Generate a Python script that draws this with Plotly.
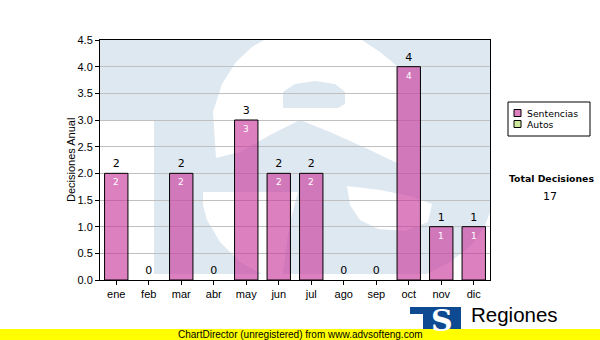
import plotly.graph_objects as go

months = ["ene", "feb", "mar", "abr", "may", "jun", "jul", "ago", "sep", "oct", "nov", "dic"]
sentencias = [2, 0, 2, 0, 3, 2, 2, 0, 0, 4, 1, 1]
autos = [0, 0, 0, 0, 0, 0, 0, 0, 0, 0, 0, 0]
series_names = ["Sentencias", "Autos"]
series_colors = ["rgba(201,54,155,0.63)", "#cfe89c"]
y_ticks = [0.0, 0.5, 1.0, 1.5, 2.0, 2.5, 3.0, 3.5, 4.0, 4.5]
total_label = "Total Decisiones"
total_value = sum(sentencias) + sum(autos)

W, H = 600, 340
L, R, T, B = 100, 110, 40, 60
PW, PH = W - L - R, H - T - B


def px(x):
    return (x - L) / PW


def py(y):
    return (H - B - y) / PH


def poly(points):
    return "M " + " L ".join(f"{px(x):.4f},{py(y):.4f}" for x, y in points) + " Z"


LB = "#dee8f1"
shapes = []
# watermark background (light-blue logo)
shapes.append(dict(type="path", path=poly([(100, 40), (490, 40), (490, 274), (154, 274), (154, 120), (100, 120)]),
                   xref="paper", yref="paper", fillcolor=LB, line=dict(width=0), layer="below"))
# upper counter (white)
shapes.append(dict(type="path", path=poly([(216, 158), (213, 112), (222, 84), (236, 62), (252, 47), (264, 40),
                                           (362, 40), (380, 52), (397, 66), (397, 163), (370, 150),
                                           (330, 132), (300, 120), (270, 135), (240, 152)]),
                   xref="paper", yref="paper", fillcolor="white", line=dict(width=0), layer="below"))
# blob inside upper counter
shapes.append(dict(type="path", path=poly([(283, 108), (283, 92), (295, 84), (315, 81), (335, 84), (345, 92),
                                           (345, 104), (338, 108)]),
                   xref="paper", yref="paper", fillcolor=LB, line=dict(width=0), layer="below"))
# lower counter
shapes.append(dict(type="path", path=poly([(347, 186), (380, 190), (410, 196), (432, 204), (428, 222),
                                           (405, 231), (378, 229), (360, 220), (350, 205)]),
                   xref="paper", yref="paper", fillcolor="white", line=dict(width=0), layer="below"))
# lower-left white region
shapes.append(dict(type="path", path=poly([(203, 192), (298, 192), (292, 215), (287, 240), (283, 274),
                                           (262, 274), (240, 262), (220, 242), (207, 220), (203, 205)]),
                   xref="paper", yref="paper", fillcolor="white", line=dict(width=0), layer="below"))
# lower-right white region
shapes.append(dict(type="path", path=poly([(490, 212), (490, 275), (425, 275), (450, 262), (472, 245), (484, 228)]),
                   xref="paper", yref="paper", fillcolor="white", line=dict(width=0), layer="below"))

# legend box
shapes.append(dict(type="rect", xref="paper", yref="paper", x0=px(508), x1=px(590), y0=py(136), y1=py(102),
                   line=dict(color="black", width=1), fillcolor="white"))
leg_rows = [113, 124]
for name, col, yy in zip(series_names, series_colors, leg_rows):
    shapes.append(dict(type="rect", xref="paper", yref="paper", x0=px(514), x1=px(521), y0=py(yy + 3.5),
                       y1=py(yy - 3.5), line=dict(color="black", width=1), fillcolor=col))

# yellow bar at the bottom
shapes.append(dict(type="rect", xref="paper", yref="paper", x0=px(0), x1=px(600), y0=py(340), y1=py(329),
                   line=dict(width=0), fillcolor="#ffff00", layer="above"))
# logo block
shapes.append(dict(type="rect", xref="paper", yref="paper", x0=px(410), x1=px(424), y0=py(314), y1=py(307),
                   line=dict(width=0), fillcolor="#0d4a91", layer="above"))
shapes.append(dict(type="rect", xref="paper", yref="paper", x0=px(423), x1=px(461), y0=py(329), y1=py(307),
                   line=dict(width=0), fillcolor="#0d4a91", layer="above"))

annotations = []
# inner white value labels
for m, v in zip(months, sentencias):
    if v > 0:
        annotations.append(dict(x=m, y=v, xref="x", yref="y", text=str(v), showarrow=False, yanchor="top",
                                yshift=-2, font=dict(family="DejaVu Sans", size=9, color="white")))
# legend texts
for name, yy in zip(series_names, leg_rows):
    annotations.append(dict(x=px(525), y=py(yy), xref="paper", yref="paper", text=name, showarrow=False,
                            xanchor="left", yanchor="middle",
                            font=dict(family="DejaVu Sans", size=9.3, color="black")))
# total
annotations.append(dict(x=px(551), y=py(178), xref="paper", yref="paper", text="<b>" + total_label + "</b>",
                        showarrow=False, xanchor="center", yanchor="middle",
                        font=dict(family="DejaVu Sans", size=9.3, color="black")))
annotations.append(dict(x=px(550), y=py(196), xref="paper", yref="paper", text=str(total_value),
                        showarrow=False, xanchor="center", yanchor="middle",
                        font=dict(family="DejaVu Sans", size=11, color="black")))
# y axis title
annotations.append(dict(x=px(71), y=py(160), xref="paper", yref="paper", text="Decisiones Anual", textangle=-90,
                        showarrow=False, xanchor="center", yanchor="middle",
                        font=dict(family="Liberation Sans", size=11, color="black")))
# logo S
annotations.append(dict(x=px(442), y=py(320), xref="paper", yref="paper", text="<b>S</b>", showarrow=False,
                        xanchor="center", yanchor="middle",
                        font=dict(family="DejaVu Serif", size=30, color="white")))
annotations.append(dict(x=px(469), y=py(314), xref="paper", yref="paper", text="Regiones", showarrow=False,
                        xanchor="left", yanchor="middle",
                        font=dict(family="Liberation Sans", size=20.5, color="black")))
# footer text
annotations.append(dict(x=px(300), y=py(334.5), xref="paper", yref="paper",
                        text="ChartDirector (unregistered) from www.advsofteng.com", showarrow=False,
                        xanchor="center", yanchor="middle",
                        font=dict(family="Liberation Sans", size=10, color="black")))

fig = go.Figure()
fig.add_trace(go.Bar(x=months, y=sentencias, name=series_names[0],
                     marker=dict(color=series_colors[0],
                                 line=dict(color="black", width=[1 if v > 0 else 0 for v in sentencias])),
                     text=[str(v) for v in sentencias], textposition="outside", cliponaxis=False,
                     textfont=dict(family="DejaVu Sans", size=11, color="black")))
fig.add_trace(go.Bar(x=months, y=autos, name=series_names[1],
                     marker=dict(color=series_colors[1], line=dict(width=0))))

fig.update_layout(
    width=W, height=H, margin=dict(l=L, r=R, t=T, b=B),
    paper_bgcolor="white", plot_bgcolor="rgba(0,0,0,0)",
    barmode="overlay", bargap=0.28, showlegend=False,
    shapes=shapes, annotations=annotations,
    font=dict(family="Liberation Sans", size=11, color="black"),
)
fig.update_xaxes(showline=True, linecolor="black", linewidth=1, mirror=True, ticks="outside", ticklen=4,
                 tickcolor="black", showgrid=False, tickfont=dict(size=11, color="black"))
fig.update_yaxes(range=[0, 4.5], tickvals=y_ticks, tickformat=".1f", showline=True, linecolor="black",
                 linewidth=1, mirror=True, ticks="outside", ticklen=4, tickcolor="black",
                 gridcolor="#c0c0c0", gridwidth=1, zeroline=False, tickfont=dict(size=11, color="black"))

fig.write_html("out.html")
